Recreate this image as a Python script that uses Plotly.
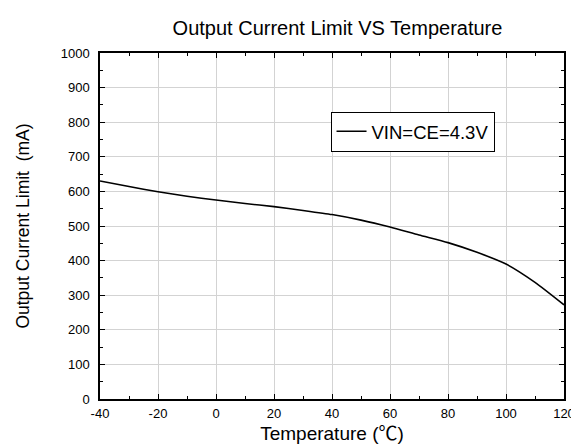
import plotly.graph_objects as go

temperature = [-40, -30, -20, -10, 0, 10, 20, 30, 40, 50, 60, 70, 80, 90, 100, 110, 120]
current_ma = [630, 614, 599, 586, 575, 565, 556, 545, 533, 517, 497, 474, 452, 424, 390, 337, 272]
series_name = "VIN=CE=4.3V"
x_tick_values = [-40, -20, 0, 20, 40, 60, 80, 100, 120]
x_tick_labels = ["-40", "-20", "0", "20", "40", "60", "80", "100", "120"]
y_tick_values = [0, 100, 200, 300, 400, 500, 600, 700, 800, 900, 1000]
y_tick_labels = ["0", "100", "200", "300", "400", "500", "600", "700", "800", "900", "1000"]

FONT = "Liberation Sans, Arial, Noto Sans CJK SC, sans-serif"

fig = go.Figure()
fig.add_trace(go.Scatter(
    x=temperature, y=current_ma, mode="lines", name=series_name,
    line=dict(color="black", width=1.6, shape="spline", smoothing=0.6),
))

axis_common = dict(
    showline=True, linecolor="black", linewidth=1.5, mirror="ticks",
    ticks="inside", ticklen=5, tickwidth=1, tickcolor="black",
    showgrid=True, gridcolor="#d3d3d3", gridwidth=1, zeroline=False,
    tickfont=dict(family=FONT, size=13, color="black"),
)

fig.update_layout(
    width=579, height=445,
    margin=dict(l=92, r=12, t=45, b=53),
    paper_bgcolor="white", plot_bgcolor="white",
    font=dict(family=FONT, color="black"),
    title=dict(text="Output Current Limit VS Temperature", x=(92 + 567) / 2 / 579,
               xanchor="center", y=1 - 20 / 445, yanchor="middle", yref="container",
               font=dict(family=FONT, size=20, color="black")),
    xaxis=dict(range=[-40, 120], tickvals=x_tick_values, ticktext=x_tick_labels,
               minor=dict(dtick=10, tick0=-40, ticks="inside", ticklen=3, tickcolor="black", showgrid=False),
               ticklabelstandoff=2,
               title=dict(text="Temperature (℃)", standoff=6,
                          font=dict(family=FONT, size=19, color="black")),
               **axis_common),
    yaxis=dict(range=[0, 1000], tickvals=y_tick_values, ticktext=y_tick_labels,
               minor=dict(dtick=50, tick0=0, ticks="inside", ticklen=3, tickcolor="black", showgrid=False),
               ticklabelstandoff=6,
               title=dict(text="Output Current Limit  (mA)", standoff=27,
                          font=dict(family=FONT, size=17.5, color="black")),
               **axis_common),
    showlegend=True,
    legend=dict(x=(328 - 92) / 475, y=(392 - 124) / 347, xanchor="left", yanchor="middle",
                bordercolor="black", borderwidth=1, bgcolor="white",
                font=dict(family=FONT, size=18.5, color="black"),
                tracegroupgap=0, itemwidth=30),
)

fig.write_html("out.html")
